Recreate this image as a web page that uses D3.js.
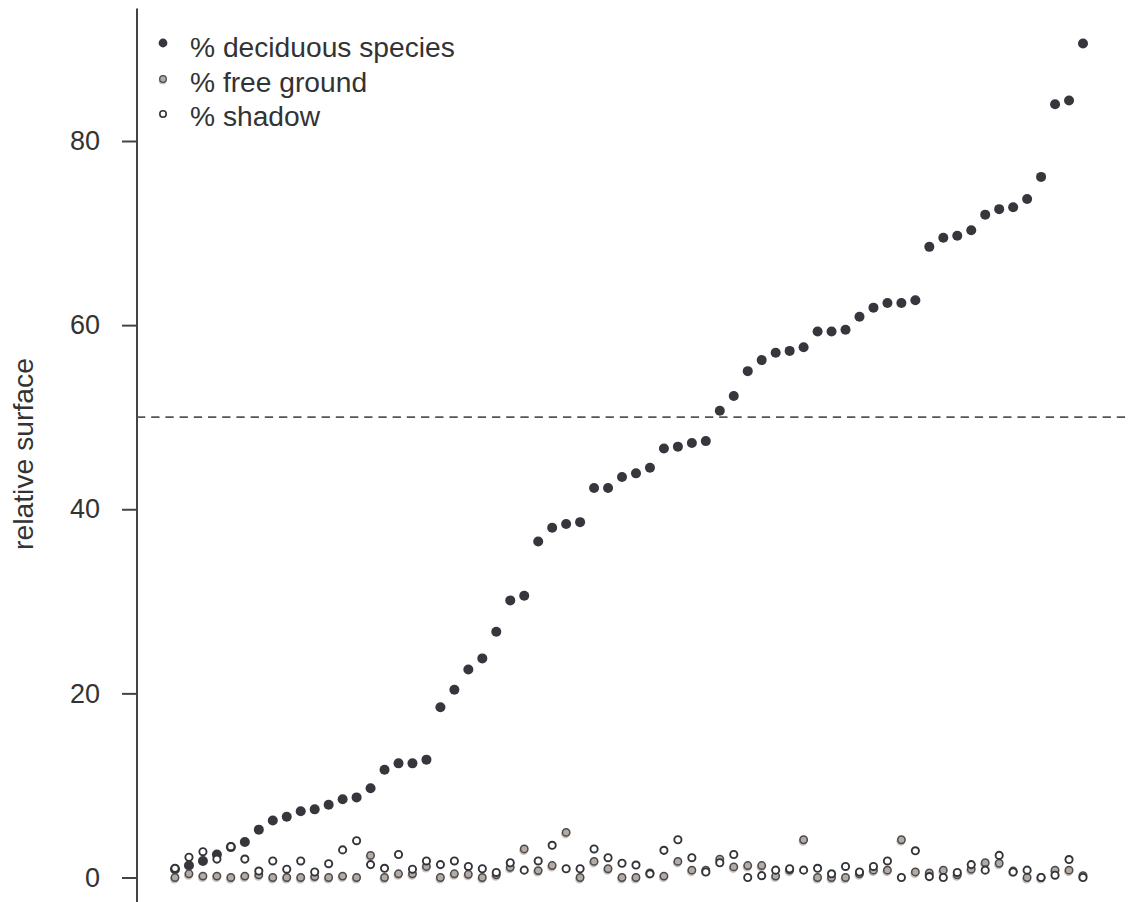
<!DOCTYPE html>
<html>
<head>
<meta charset="utf-8">
<script src="https://cdn.jsdelivr.net/npm/d3@7"></script>
<style>
  html, body { margin: 0; padding: 0; background: #fff; }
  svg { display: block; font-family: "Liberation Sans", Arial, Helvetica, sans-serif; }
</style>
</head>
<body>
<svg id="chart" width="1128" height="902"></svg>
<script>
const deciduous = [0.9,1.3,1.8,2.5,3.3,3.85,5.2,6.2,6.6,7.2,
  7.4,7.9,8.5,8.7,9.7,11.7,12.4,12.4,12.8,18.5,
  20.4,22.6,23.8,26.7,30.1,30.6,36.5,38.0,38.4,38.6,
  42.3,42.3,43.5,43.9,44.5,46.6,46.8,47.2,47.4,50.7,
  52.3,55.0,56.2,57.0,57.2,57.6,59.3,59.3,59.5,60.9,
  61.9,62.4,62.4,62.7,68.5,69.5,69.7,70.3,72.0,72.6,
  72.8,73.7,76.1,84.0,84.4,90.6];
const freeGround = [0,0.4,0.15,0.15,0,0.15,0.3,0,0,0,
  0.1,0,0.15,0,2.4,0,0.4,0.4,1.2,0,
  0.4,0.35,0,0.3,1.1,3.1,0.75,1.3,4.9,0,
  1.75,0.95,0,0,0.5,0.15,1.75,0.8,0.8,2.0,
  1.15,1.3,1.3,0.15,0.8,4.1,0,0,0,0.4,
  0.8,0.8,4.1,0.6,0.5,0.8,0.3,0.9,1.6,1.55,
  0.7,0,0,0.8,0.8,0.2];
const shadow = [1.0,2.2,2.8,2.0,3.35,2.0,0.7,1.8,0.9,1.8,
  0.6,1.5,3.0,4.0,1.4,1.0,2.5,0.9,1.8,1.4,
  1.8,1.2,0.95,0.55,1.6,0.8,1.8,3.5,0.95,0.95,
  3.1,2.15,1.55,1.35,0.4,2.95,4.1,2.15,0.6,1.6,
  2.5,0,0.2,0.8,0.95,0.8,1.0,0.4,1.2,0.6,
  1.2,1.8,0,2.9,0.1,0,0.55,1.4,0.8,2.4,
  0.6,0.8,0,0.25,1.95,0];
const yTicks = [0, 20, 40, 60, 80];
const seriesNames = ["% deciduous species", "% free ground", "% shadow"];
const refLine = 50;
const yLabel = "relative surface";

const svg = d3.select("#chart");
const n = deciduous.length;
const x = d3.scaleLinear().domain([1, n]).range([175, 1083]);
const y = d3.scaleLinear().domain([0, 80]).range([877.5, 141]);
const axisX = 137;

// y axis
const yAxis = d3.axisLeft(y).tickValues(yTicks).tickSize(15).tickPadding(22).tickFormat(d3.format("d"));
const gy = svg.append("g").attr("transform", `translate(${axisX},0)`).call(yAxis);
gy.select(".domain").remove();
gy.selectAll(".tick line").attr("stroke", "#444").attr("stroke-width", 2);
gy.selectAll(".tick text").attr("fill", "#333").attr("font-size", 27)
  .attr("font-family", "'Liberation Sans', Arial, sans-serif");
gy.append("line").attr("x1", 0).attr("x2", 0)
  .attr("y1", y(94.4)).attr("y2", y(-2.8))
  .attr("stroke", "#444").attr("stroke-width", 2);

// y label
svg.append("text")
  .attr("transform", `translate(33,454) rotate(-90)`)
  .attr("text-anchor", "middle")
  .attr("font-size", 28.3).attr("fill", "#333")
  .text(yLabel);

// reference dashed line
svg.append("line")
  .attr("x1", axisX).attr("x2", 1128)
  .attr("y1", y(refLine)).attr("y2", y(refLine))
  .attr("stroke", "#555").attr("stroke-width", 1.8)
  .attr("stroke-dasharray", "8.3,5.9");

const idx = d3.range(n);

// deciduous
svg.append("g").selectAll("circle").data(idx).join("circle")
  .attr("cx", i => x(i + 1)).attr("cy", i => y(deciduous[i]))
  .attr("r", 5).attr("fill", "#36363c");

// free ground (with soft offset shadow)
const gf = svg.append("g");
gf.selectAll("circle.sh").data(idx).join("circle").attr("class", "sh")
  .attr("cx", i => x(i + 1) - 0.6).attr("cy", i => y(freeGround[i]) + 1.6)
  .attr("r", 4.4).attr("fill", "#c9c1bb");
gf.selectAll("circle.pt").data(idx).join("circle").attr("class", "pt")
  .attr("cx", i => x(i + 1)).attr("cy", i => y(freeGround[i]))
  .attr("r", 3.7).attr("fill", "#b4aba5").attr("stroke", "#4a4a4d").attr("stroke-width", 1.5);

// shadow (open circles)
svg.append("g").selectAll("circle").data(idx).join("circle")
  .attr("cx", i => x(i + 1)).attr("cy", i => y(shadow[i]))
  .attr("r", 3.6).attr("fill", "#fff").attr("stroke", "#333338").attr("stroke-width", 1.9);

// legend
const lg = svg.append("g");
const legY = [43, 79, 114];
const legBase = [57, 92, 126];
lg.append("circle").attr("cx", 163).attr("cy", legY[0]).attr("r", 4.4).attr("fill", "#36363c");
lg.append("circle").attr("cx", 162.6).attr("cy", legY[1] + 1.4).attr("r", 3.9).attr("fill", "#c9c1bb");
lg.append("circle").attr("cx", 163).attr("cy", legY[1]).attr("r", 3.3).attr("fill", "#b4aba5").attr("stroke", "#4a4a4d").attr("stroke-width", 1.3);
lg.append("circle").attr("cx", 163).attr("cy", legY[2]).attr("r", 3.2).attr("fill", "#fff").attr("stroke", "#333338").attr("stroke-width", 1.6);
lg.selectAll("text").data(seriesNames).join("text")
  .attr("x", 190).attr("y", (d, i) => legBase[i])
  .attr("font-size", 28.2).attr("fill", "#333")
  .text(d => d);
</script>
</body>
</html>
